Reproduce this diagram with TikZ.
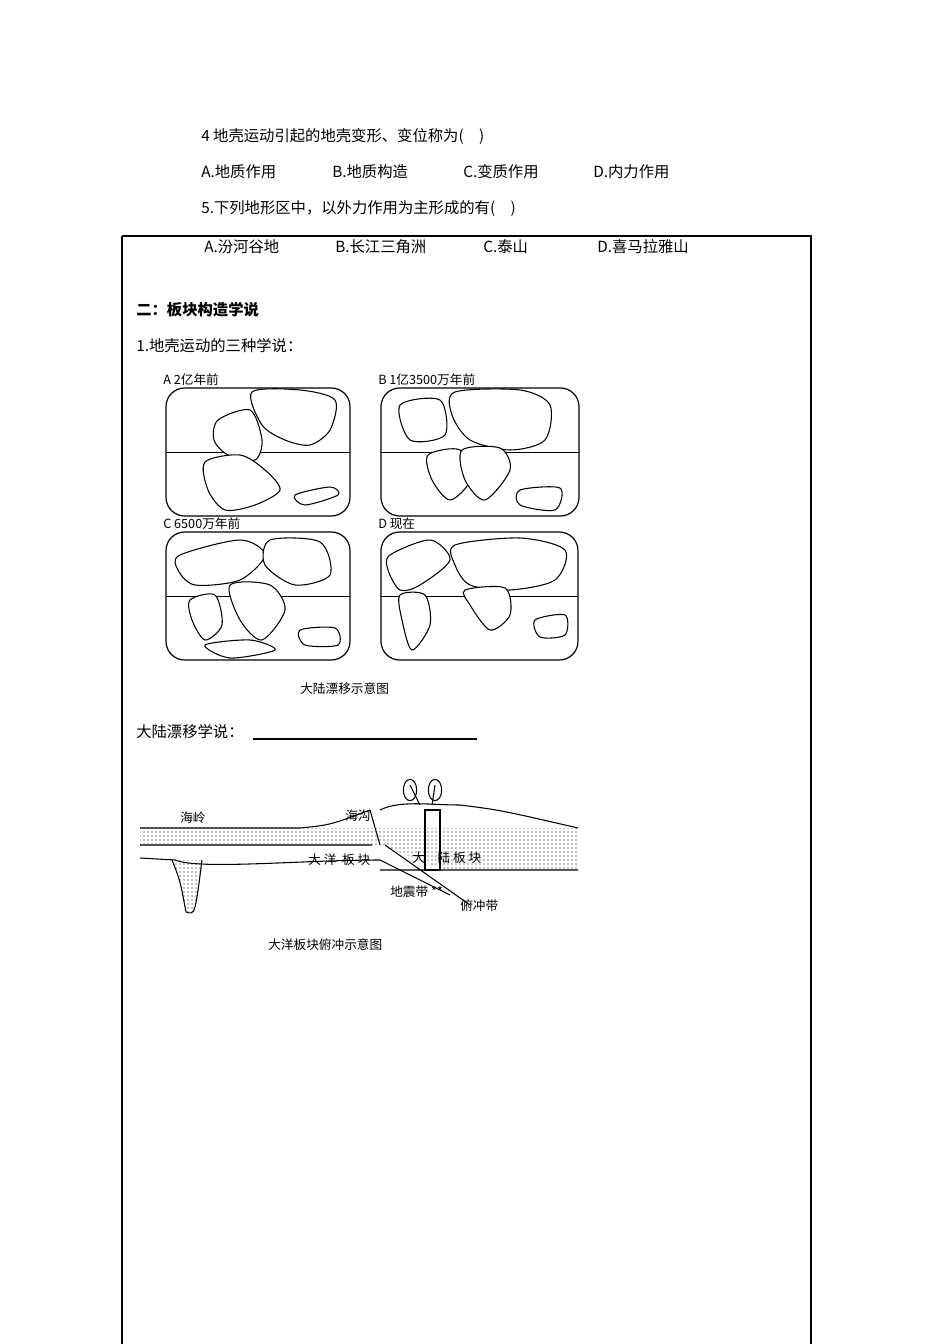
\documentclass[tikz,border=0pt]{standalone}
\usepackage{fontspec}
\setmainfont{Noto Sans CJK SC}
\usetikzlibrary{patterns}
\tikzset{txt/.style={anchor=west,inner sep=0,font=\fontsize{11.5}{13}\selectfont},
sm/.style={anchor=west,inner sep=0,font=\fontsize{9.5}{11}\selectfont},
mapbox/.style={draw,line width=0.9pt,rounded corners=14pt},
land/.style={draw,line width=0.8pt,fill=white}}
\begin{document}
\begin{tikzpicture}[x=0.75pt,y=-0.75pt]
\useasboundingbox (0,0) rectangle (950,1344);
\node[txt] (q4) at (201,136) {4 地壳运动引起的地壳变形、变位称为(\quad)};
\node[txt] (a4) at (201,172) {A.地质作用};
\node[txt] (b4) at (332,172) {B.地质构造};
\node[txt] (c4) at (463,172) {C.变质作用};
\node[txt] (d4) at (593,172) {D.内力作用};
\node[txt] (q5) at (201,209) {5.下列地形区中，以外力作用为主形成的有(\quad)};
\draw[line width=0.8pt] (122,236) -- (811,236) -- (811,1344) (122,236) -- (122,1344);
\node[txt] (a5) at (204,247) {A.汾河谷地};
\node[txt] (b5) at (335,247) {B.长江三角洲};
\node[txt] (c5) at (483,247) {C.泰山};
\node[txt] (d5) at (597,247) {D.喜马拉雅山};
\node[txt,font=\fontsize{11.5}{13}\selectfont\bfseries] (h2) at (136,310) {二：板块构造学说};
\node[txt] (s1) at (136,346) {1.地壳运动的三种学说：};
% maps
\foreach \nm/\x/\y/\w/\lab in {A/166/388/184/{A 2亿年前},B/381/388/198/{B 1亿3500万年前},C/166/532/184/{C 6500万年前},D/381/532/197/{D 现在}}{
  \draw[mapbox] (\x,\y) rectangle ++(\w,128);
  \draw[line width=0.6pt] (\x,\y+64) -- ++(\w,0);
  \node[sm] at (\x-3,\y-8) {\lab};
}
% A continents
\draw[land] plot[smooth cycle] coordinates {(252,392)(300,390)(335,400)(330,430)(310,445)(285,440)(262,425)};
\draw[land] plot[smooth cycle] coordinates {(218,420)(250,410)(262,440)(255,460)(228,455)(214,440)};
\draw[land] plot[smooth cycle] coordinates {(205,462)(240,455)(265,470)(280,490)(255,505)(225,510)(208,490)};
\draw[land] plot[smooth cycle] coordinates {(295,495)(330,487)(338,495)(305,505)};
% B
\draw[land] plot[smooth cycle] coordinates {(455,392)(520,390)(550,405)(545,440)(510,450)(470,440)(452,415)};
\draw[land] plot[smooth cycle] coordinates {(400,405)(440,400)(445,435)(410,440)};
\draw[land] plot[smooth cycle] coordinates {(428,455)(460,450)(470,480)(450,500)(432,480)};
\draw[land] plot[smooth cycle] coordinates {(462,450)(500,448)(510,470)(485,500)(465,480)};
\draw[land] plot[smooth cycle] coordinates {(520,490)(560,488)(555,510)(520,505)};
% C
\draw[land] plot[smooth cycle] coordinates {(180,555)(240,540)(265,555)(240,580)(195,585)(178,570)};
\draw[land] plot[smooth cycle] coordinates {(270,540)(320,542)(330,575)(295,585)(265,565)};
\draw[land] plot[smooth cycle] coordinates {(190,600)(215,595)(222,625)(205,640)(192,620)};
\draw[land] plot[smooth cycle] coordinates {(230,585)(270,585)(285,610)(262,640)(240,620)};
\draw[land] plot[smooth cycle] coordinates {(205,645)(250,640)(275,650)(230,658)};
\draw[land] plot[smooth cycle] coordinates {(300,630)(335,628)(338,645)(305,645)};
% D
\draw[land] plot[smooth cycle] coordinates {(390,555)(430,540)(450,560)(420,585)(400,590)(388,570)};
\draw[land] plot[smooth cycle] coordinates {(455,545)(520,538)(565,550)(555,580)(510,590)(470,585)(455,565)};
\draw[land] plot[smooth cycle] coordinates {(400,595)(425,595)(430,625)(412,650)(402,620)};
\draw[land] plot[smooth cycle] coordinates {(465,590)(505,588)(510,615)(490,630)(470,605)};
\draw[land] plot[smooth cycle] coordinates {(535,620)(565,615)(565,635)(540,637)};
\node[sm] (cap1) at (300,689) {大陆漂移示意图};
\node[txt] (dl) at (136,732) {大陆漂移学说：};
\draw[line width=0.8pt] (253,739) -- (477,739);
% cross-section
\fill[pattern=dots] (140,828) -- (578,828) -- (578,870) -- (445,870) -- (380,845) -- (140,845) -- cycle;
\draw[line width=0.8pt] (140,828) -- (300,828) .. controls (330,825) .. (370,810) -- (380,845);
\draw[line width=0.8pt] (380,810) .. controls (400,800) and (430,805) .. (460,805) .. controls (500,810) .. (578,828);
\draw[line width=0.8pt] (140,845) -- (372,845) (140,858) -- (175,860) .. controls (200,870) and (300,860) .. (380,860) -- (450,895);
\draw[line width=0.8pt] (380,870) -- (578,870) (385,845) -- (470,905);
\draw[line width=0.8pt,fill=white,pattern=dots] (172,860) .. controls (180,880) .. (186,912) .. controls (195,915) .. (202,860);
\draw[line width=0.8pt] (425,810) rectangle (440,870);
\draw[line width=0.8pt] (410,785) -- (420,805) (435,785) -- (432,805);
\draw[line width=0.8pt] (410,790) ellipse (5pt and 8pt) (435,790) ellipse (5pt and 8pt);
\node[sm] (hl) at (180,818) {海岭};
\node[sm] (hg) at (345,816) {海沟};
\node[sm] (dy) at (308,860) {大\ 洋\ \ 板\ 块};
\node[sm] (lb) at (412,858) {大\quad 陆\ 板\ 块};
\node[sm] (dz) at (390,892) {地震带\ **};
\node[sm] (fc) at (460,906) {俯冲带};
\node[sm] (cap2) at (268,945) {大洋板块俯冲示意图};
\end{tikzpicture}
\end{document}
